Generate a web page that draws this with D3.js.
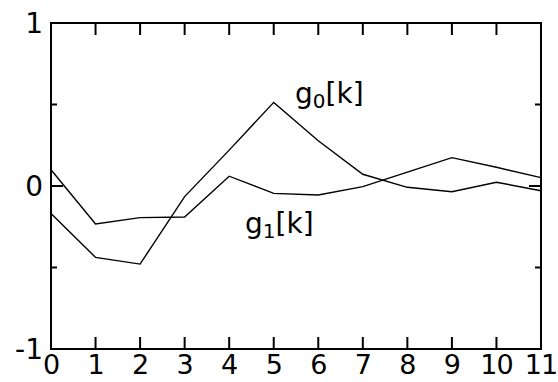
<!DOCTYPE html>
<html>
<head>
<meta charset="utf-8">
<script src="https://cdn.jsdelivr.net/npm/d3@7"></script>
<style>
  body { margin: 0; background: #fff; }
  text { font-family: "DejaVu Sans", Verdana, sans-serif; fill: #000; }
</style>
</head>
<body>
<svg id="chart"></svg>
<script>
// Data
const ks = [0, 1, 2, 3, 4, 5, 6, 7, 8, 9, 10, 11];
const g0 = [-0.168, -0.438, -0.479, -0.065, 0.22, 0.513, 0.278, 0.072, -0.008, -0.035, 0.023, -0.029];
const g1 = [0.10, -0.233, -0.194, -0.19, 0.06, -0.045, -0.055, -0.004, 0.085, 0.174, 0.115, 0.051];
const yTicks = [-1, 0, 1];
const yMinor = [-0.5, 0.5];

const width = 558, height = 382;
const margin = {left: 51, right: 17, top: 23, bottom: 33};

const svg = d3.select("#chart")
    .attr("width", width)
    .attr("height", height);

const x = d3.scaleLinear().domain([0, 11]).range([margin.left, width - margin.right]);
const y = d3.scaleLinear().domain([-1, 1]).range([height - margin.bottom, margin.top]);

// Frame
svg.append("rect")
    .attr("x", x(0))
    .attr("y", y(1))
    .attr("width", x(11) - x(0))
    .attr("height", y(-1) - y(1))
    .style("fill", "none")
    .style("stroke", "#000")
    .style("stroke-width", 2);

// Inner ticks on all four sides
const tickLen = 12, minorLen = 6;
const xIn = ks.slice(1, -1);
svg.selectAll(".xTickB")
    .data(xIn)
    .join("line")
        .attr("x1", d => x(d)).attr("x2", d => x(d))
        .attr("y1", y(-1)).attr("y2", y(-1) - tickLen)
        .style("stroke", "#000").style("stroke-width", 2);
svg.selectAll(".xTickT")
    .data(xIn)
    .join("line")
        .attr("x1", d => x(d)).attr("x2", d => x(d))
        .attr("y1", y(1)).attr("y2", y(1) + tickLen)
        .style("stroke", "#000").style("stroke-width", 2);
const yAll = yTicks.map(v => [v, tickLen]).concat(yMinor.map(v => [v, minorLen]));
svg.selectAll(".yTickL")
    .data(yAll)
    .join("line")
        .attr("x1", x(0)).attr("x2", d => x(0) + d[1])
        .attr("y1", d => y(d[0])).attr("y2", d => y(d[0]))
        .style("stroke", "#000").style("stroke-width", 2);
svg.selectAll(".yTickR")
    .data(yAll)
    .join("line")
        .attr("x1", x(11)).attr("x2", d => x(11) - d[1])
        .attr("y1", d => y(d[0])).attr("y2", d => y(d[0]))
        .style("stroke", "#000").style("stroke-width", 2);

// Tick labels
svg.selectAll(".xLabel")
    .data(ks)
    .join("text")
        .attr("x", d => x(d))
        .attr("y", y(-1) + 25)
        .attr("text-anchor", "middle")
        .style("font-size", "27px")
        .style("letter-spacing", "-1px")
        .text(d => d);
svg.selectAll(".yLabel")
    .data(yTicks)
    .join("text")
        .attr("x", x(0) - 8)
        .attr("y", d => y(d) + 10)
        .attr("text-anchor", "end")
        .style("font-size", "28px")
        .text(d => d);

// Series lines
const line = d3.line().x((d, i) => x(ks[i])).y(d => y(d));
[g0, g1].forEach(s => {
    svg.append("path")
        .datum(s)
        .attr("d", line)
        .style("fill", "none")
        .style("stroke", "#000")
        .style("stroke-width", 1.4);
});

// Series labels
function seriesLabel (px, py, sub) {
    const t = svg.append("text")
        .attr("x", px)
        .attr("y", py)
        .style("font-size", "28px");
    t.append("tspan").text("g");
    t.append("tspan").attr("dy", 5).style("font-size", "20px").text(sub);
    t.append("tspan").attr("dy", -5).text("[k]");
}
seriesLabel(295, 103, "0");
seriesLabel(245, 233, "1");
</script>
</body>
</html>
